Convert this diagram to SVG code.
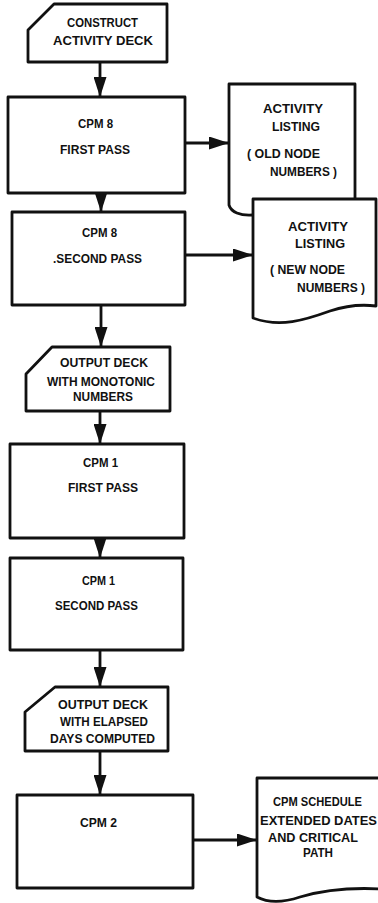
<svg xmlns="http://www.w3.org/2000/svg" width="378" height="903" viewBox="0 0 378 903">
<style>
.s{fill:#fff;stroke:#111;stroke-width:2.8;stroke-linejoin:round}
.c{fill:none;stroke:#111;stroke-width:2.8}
text{font-family:"Liberation Sans",Arial,sans-serif;font-weight:bold;font-size:12.5px;fill:#111}
</style>
<defs>
<marker id="ah" markerUnits="userSpaceOnUse" markerWidth="20" markerHeight="13" refX="19" refY="6.5" orient="auto">
<path d="M0,0 L20,6.5 L0,13 Z" fill="#111"/>
</marker>
</defs>
<rect width="378" height="903" fill="#fff"/>
<g id="connectors">
<line class="c" x1="100" y1="63" x2="100" y2="96" marker-end="url(#ah)"/>
<line class="c" x1="101" y1="193" x2="101" y2="211" marker-end="url(#ah)"/>
<line class="c" x1="101" y1="305" x2="101" y2="346" marker-end="url(#ah)"/>
<line class="c" x1="100" y1="411" x2="100" y2="443" marker-end="url(#ah)"/>
<line class="c" x1="100" y1="538" x2="100" y2="557" marker-end="url(#ah)"/>
<line class="c" x1="100" y1="650" x2="100" y2="686" marker-end="url(#ah)"/>
<line class="c" x1="100" y1="751" x2="100" y2="794" marker-end="url(#ah)"/>
<line class="c" x1="185" y1="143" x2="228" y2="143" marker-end="url(#ah)"/>
<line class="c" x1="185" y1="255" x2="252" y2="255" marker-end="url(#ah)"/>
<line class="c" x1="193" y1="840" x2="256" y2="840" marker-end="url(#ah)"/>
</g>
<g id="construct">
<path class="s" d="M54,4 H167 V62 H28 V30 Z"/>
<text x="67" y="27" textLength="71" lengthAdjust="spacingAndGlyphs">CONSTRUCT</text>
<text x="53" y="45" textLength="100" lengthAdjust="spacingAndGlyphs">ACTIVITY DECK</text>
</g>
<g id="cpm8first">
<rect class="s" x="8" y="97" width="177" height="96"/>
<text x="78" y="128" textLength="35" lengthAdjust="spacingAndGlyphs">CPM 8</text>
<text x="60" y="154" textLength="70" lengthAdjust="spacingAndGlyphs">FIRST PASS</text>
</g>
<g id="listingold">
<path class="s" d="M229,84 H355 V210 C320,220 290,205 253,215 C240,216 231,212 229,205 Z"/>
<text x="263" y="113" textLength="60" lengthAdjust="spacingAndGlyphs">ACTIVITY</text>
<text x="272" y="131" textLength="48" lengthAdjust="spacingAndGlyphs">LISTING</text>
<text x="247" y="158" textLength="73" lengthAdjust="spacingAndGlyphs">( OLD NODE</text>
<text x="270" y="176" textLength="67" lengthAdjust="spacingAndGlyphs">NUMBERS )</text>
</g>
<g id="cpm8second">
<rect class="s" x="12" y="212" width="173" height="93"/>
<text x="82" y="237" textLength="35" lengthAdjust="spacingAndGlyphs">CPM 8</text>
<text x="53" y="263" textLength="89" lengthAdjust="spacingAndGlyphs">.SECOND PASS</text>
</g>
<g id="listingnew">
<path class="s" d="M253,199 H376 V306 C360,304 345,306 330,311 C305,320 280,328 253,318 Z"/>
<text x="288" y="231" textLength="60" lengthAdjust="spacingAndGlyphs">ACTIVITY</text>
<text x="295" y="248" textLength="50" lengthAdjust="spacingAndGlyphs">LISTING</text>
<text x="270" y="274" textLength="75" lengthAdjust="spacingAndGlyphs">( NEW NODE</text>
<text x="297" y="292" textLength="68" lengthAdjust="spacingAndGlyphs">NUMBERS )</text>
</g>
<g id="deckmonotonic">
<path class="s" d="M52,347 H170 V411 H26 V374 Z"/>
<text x="60" y="367" textLength="88" lengthAdjust="spacingAndGlyphs">OUTPUT DECK</text>
<text x="47" y="386" textLength="108" lengthAdjust="spacingAndGlyphs">WITH MONOTONIC</text>
<text x="73" y="401" textLength="60" lengthAdjust="spacingAndGlyphs">NUMBERS</text>
</g>
<g id="cpm1first">
<rect class="s" x="10" y="444" width="174" height="94"/>
<text x="83" y="467" textLength="35" lengthAdjust="spacingAndGlyphs">CPM 1</text>
<text x="68" y="492" textLength="70" lengthAdjust="spacingAndGlyphs">FIRST PASS</text>
</g>
<g id="cpm1second">
<rect class="s" x="10" y="558" width="173" height="92"/>
<text x="82" y="585" textLength="33" lengthAdjust="spacingAndGlyphs">CPM 1</text>
<text x="55" y="610" textLength="83" lengthAdjust="spacingAndGlyphs">SECOND PASS</text>
</g>
<g id="deckelapsed">
<path class="s" d="M55,687 H168 V751 H25 V712 Z"/>
<text x="58" y="709" textLength="90" lengthAdjust="spacingAndGlyphs">OUTPUT DECK</text>
<text x="60" y="726" textLength="88" lengthAdjust="spacingAndGlyphs">WITH ELAPSED</text>
<text x="50" y="743" textLength="105" lengthAdjust="spacingAndGlyphs">DAYS COMPUTED</text>
</g>
<g id="cpm2">
<rect class="s" x="17" y="795" width="176" height="93"/>
<text x="80" y="827" textLength="37" lengthAdjust="spacingAndGlyphs">CPM 2</text>
</g>
<g id="schedule">
<path class="s" d="M257,778 H382 V889 C345,887 320,891 300,897 C285,902 270,904 257,897 Z"/>
<text x="273" y="806" textLength="89" lengthAdjust="spacingAndGlyphs">CPM SCHEDULE</text>
<text x="260" y="825" textLength="117" lengthAdjust="spacingAndGlyphs">EXTENDED DATES</text>
<text x="268" y="842" textLength="90" lengthAdjust="spacingAndGlyphs">AND CRITICAL</text>
<text x="303" y="857" textLength="30" lengthAdjust="spacingAndGlyphs">PATH</text>
</g>
</svg>
